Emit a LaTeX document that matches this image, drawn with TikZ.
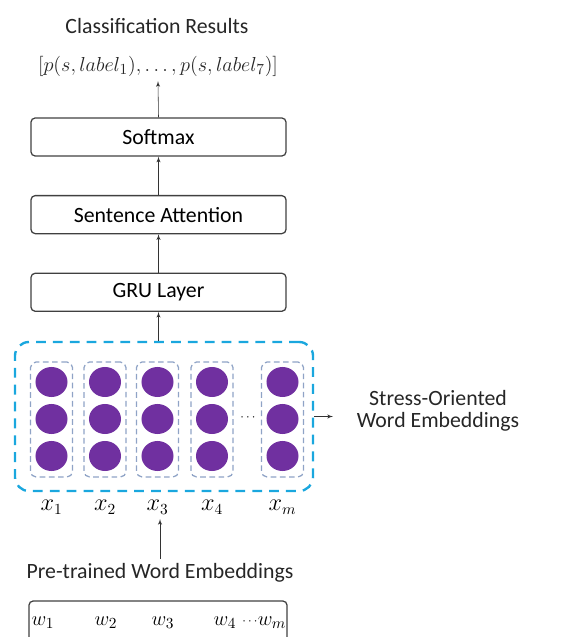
\documentclass[tikz,border=0pt]{standalone}
\usepackage{fontspec}
\setmainfont{Carlito}
\usepackage{tikz}
\usetikzlibrary{arrows,positioning,shapes.geometric,calc}
\definecolor{embpurple}{HTML}{7030A0}
\definecolor{embcyan}{HTML}{1AA7DE}
\definecolor{colgray}{HTML}{8FA3C6}
\tikzstyle{layer}=[draw=black!75, line width=0.9pt, rounded corners=3pt,
  minimum width=6.375cm, minimum height=0.95cm, text centered,
  font=\fontsize{15.5}{18}\selectfont]
\tikzstyle{texto}=[text centered, text=black!85, font=\fontsize{15.5}{18}\selectfont]
\tikzstyle{unit}=[ellipse, fill=embpurple, minimum width=0.8cm,
  minimum height=0.75cm, inner sep=0pt]
\tikzstyle{column}=[draw=colgray, line width=0.9pt, dash pattern=on 4pt off 2.5pt,
  rounded corners=4pt, minimum width=1.05cm, minimum height=2.875cm]
\tikzstyle{group}=[draw=embcyan, line width=1.7pt, dash pattern=on 7pt off 5pt,
  rounded corners=10pt, minimum width=7.45cm, minimum height=3.725cm]
\tikzstyle{line}=[draw, thin, color=black!80, -latex']
\tikzstyle{sym}=[font=\fontsize{16}{18}\selectfont]
\newcommand{\layer}[2]{node (#1)[layer]{#2}}

\begin{document}
\begin{tikzpicture}[x=0.025cm,y=0.025cm]
  \useasboundingbox (0,0) rectangle (570,637);

  % Draw output labels
  \node (res)[texto] at (157,611) {Classification Results};
  \node (probs)[texto] at (158,571) {$[p(s,label_1),\ldots,p(s,label_7)]$};

  % Draw layer boxes
  \path (158.5,500) \layer{soft}{Softmax};
  \path (soft.south)+(0,-58) \layer{att}{Sentence Attention};
  \path (att.south)+(0,-58) \layer{gru}{GRU Layer};

  % Draw embedding columns
  \node (emb)[group] at (164,220.5) {};
  \foreach \c/\xx in {1/51.5,2/105,3/157.5,4/212,m/282.5} {
    \node (col\c)[column] at (\xx,217.5) {};
    \foreach \r/\yy in {1/255,2/218,3/181}
      \node (u\c\r)[unit] at (\xx,\yy) {};
    \node (x\c)[sym] at (\xx,130) {$x_{\c}$};
  }
  \node (dots)[font=\small] at (248,219) {$\cdots$};
  \node (stress)[texto, align=center, anchor=west,
    font=\fontsize{15.5}{16}\selectfont] at (352,226)
    {Stress-Oriented\\Word Embeddings};

  % Draw input
  \node (pre)[texto] at (160,64) {Pre-trained Word Embeddings};
  \node (wbox)[draw=black!75, line width=0.9pt, rounded corners=3pt,
    minimum width=6.45cm, minimum height=1.05cm] at (158,15) {};
  \foreach \i/\xx in {1/43,2/106,3/163,4/225,m/272}
    \node (w\i)[font=\fontsize{15}{17}\selectfont] at (\xx,14) {$w_{\i}$};
  \node (wdots)[font=\small] at (250,15) {$\cdots$};

  % Draw arrows between elements
  \path [line] (soft.north) -- (probs.south);
  \path [line] (att.north) -- (soft.south);
  \path [line] (gru.north) -- (att.south);
  \path [line] (emb.north -| gru.south) -- (gru.south);
  \path [line, shorten >=0.475cm] (emb.east) -- (stress.west |- emb.east);
  \path [line] (pre.north) -- (pre.north |- x3.south);

\end{tikzpicture}
\end{document}
